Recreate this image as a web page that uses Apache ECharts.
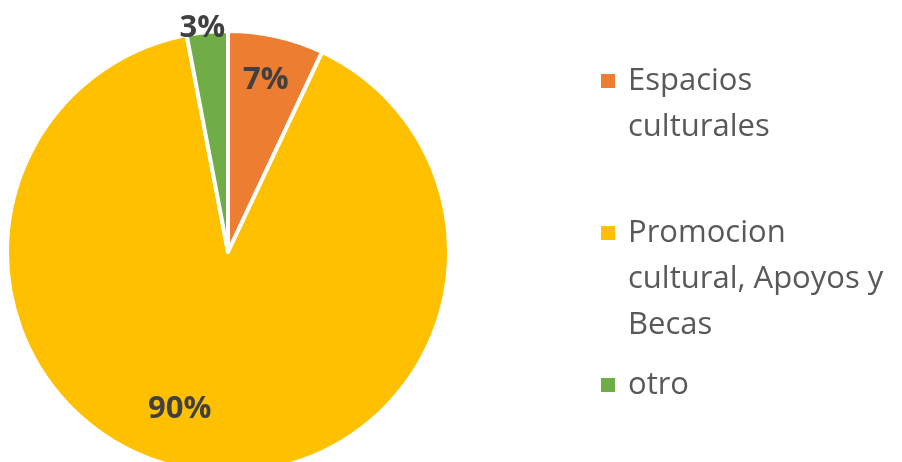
<!DOCTYPE html>
<html>
<head>
<meta charset="utf-8">
<script src="https://cdn.jsdelivr.net/npm/echarts@6/dist/echarts.min.js"></script>
<style>
  html, body { margin: 0; padding: 0; background: #fff; }
  #chart { width: 902px; height: 462px; }
</style>
</head>
<body>
<div id="chart"></div>
<script>
var categories = ['Espacios\nculturales', 'Promocion\ncultural, Apoyos y\nBecas', 'otro'];
var values = [7, 90, 3];
var colors = ['#ED7D31', '#FFC000', '#70AD47'];
// label nudges from the default inside spot (Excel best-fit look)
var labelOffsets = [[13, -61], [-34, 45], [-15, -111]];
var legendTops = [12, 118, 362];

var chart = echarts.init(document.getElementById('chart'));

var data = categories.map(function (name, i) {
    return {
        name: name,
        value: values[i],
        itemStyle: { color: colors[i] },
        label: { offset: labelOffsets[i] }
    };
});

var legends = categories.map(function (name, i) {
    return {
        orient: 'vertical',
        left: 599,
        top: legendTops[i],
        padding: 0,
        data: [name],
        icon: 'rect',
        itemWidth: 16,
        itemHeight: 16,
        selectedMode: false,
        formatter: function (n) {
            var lines = n.split('\n').length;
            return new Array(lines).join('\n') + n;
        },
        textStyle: {
            fontFamily: 'Open Sans',
            fontSize: 31,
            lineHeight: 46,
            color: '#595959',
            padding: [0, 0, 0, 7]
        }
    };
});

var option = {
    animation: false,
    backgroundColor: '#fff',
    legend: legends,
    series: [{
        type: 'pie',
        center: [228, 252],
        radius: 221,
        startAngle: 90,
        clockwise: true,
        data: data,
        itemStyle: { borderColor: '#fff', borderWidth: 4 },
        emphasis: { disabled: true },
        label: {
            show: true,
            position: 'inside',
            formatter: '{d}%',
            fontFamily: 'Open Sans',
            fontWeight: 'bold',
            fontSize: 31,
            color: '#404040'
        },
        labelLine: { show: false }
    }]
};

chart.setOption(option);
</script>
</body>
</html>
